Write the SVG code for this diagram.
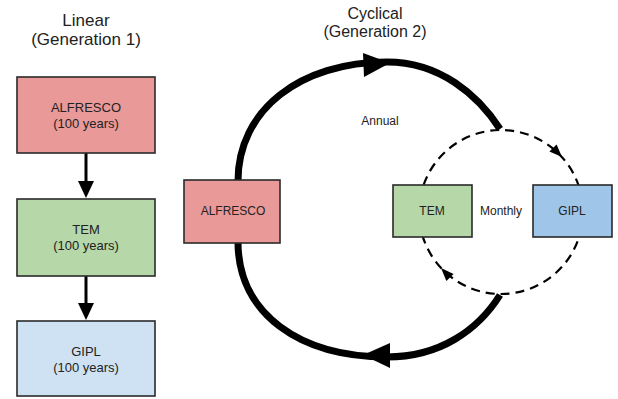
<svg xmlns="http://www.w3.org/2000/svg" width="618" height="399" viewBox="0 0 618 399">
<style>
text{font-family:"Liberation Sans",Arial,sans-serif;fill:#222;text-anchor:middle}
.title{font-size:17px}
.ctitle{font-size:16px}
.lbl{font-size:13px}
.lbl2{font-size:12px}
.small{font-size:12px}
.box{stroke:#2a2a2a;stroke-width:1.6}
.red{fill:#ea9999}.green{fill:#b6d7a8}.lblue{fill:#cfe2f3}.blue{fill:#9fc5e8}
.thick{fill:none;stroke:#000;stroke-width:7}
.dash{fill:none;stroke:#000;stroke-width:2.2;stroke-dasharray:9 6}
</style>
<rect width="618" height="399" fill="#fff"/>
<text class="title" x="86" y="26">Linear</text>
<text class="title" x="86" y="45">(Generation 1)</text>
<text class="ctitle" x="375" y="19">Cyclical</text>
<text class="ctitle" x="375" y="37">(Generation 2)</text>
<g id="connectors">
<line x1="86" y1="153" x2="86" y2="184" stroke="#000" stroke-width="3"/>
<polygon points="78,181 94,181 86,198"/>
<line x1="86" y1="276" x2="86" y2="306" stroke="#000" stroke-width="3"/>
<polygon points="78,303 94,303 86,320"/>
<circle class="dash" cx="501" cy="212" r="82"/>
<polygon points="562,157 549.4,151.5 556.6,144.5"/>
<polygon points="441,268 453.6,273.9 446.4,280.9"/>
<path class="thick" d="M238,181 C238,110 300,62 387,62 C440,62 478,95 500,129"/>
<path class="thick" d="M500,295 C478,330 440,357 387,357 C300,357 238,314 238,242"/>
<polygon points="363,53 390,63 364,77"/>
<polygon points="363,355 390,343 390,368"/>
<text class="small" x="380" y="125">Annual</text>
<text class="small" x="501" y="215">Monthly</text>
</g>
<g id="lin-alfresco"><rect class="box red" x="17" y="77" width="138" height="76"/><text class="lbl" x="86" y="112">ALFRESCO</text><text class="lbl" x="86" y="128">(100 years)</text></g>
<g id="lin-tem"><rect class="box green" x="17" y="199" width="138" height="77"/><text class="lbl" x="86" y="234">TEM</text><text class="lbl" x="86" y="250">(100 years)</text></g>
<g id="lin-gipl"><rect class="box lblue" x="17" y="321" width="138" height="75"/><text class="lbl" x="86" y="356">GIPL</text><text class="lbl" x="86" y="372">(100 years)</text></g>
<g id="cyc-alfresco"><rect class="box red" x="184" y="180" width="96" height="63"/><text class="lbl2" x="233" y="215">ALFRESCO</text></g>
<g id="cyc-tem"><rect class="box green" x="393" y="185" width="79" height="52"/><text class="lbl2" x="432" y="215">TEM</text></g>
<g id="cyc-gipl"><rect class="box blue" x="533" y="185" width="79" height="52"/><text class="lbl2" x="572" y="215">GIPL</text></g>
</svg>
